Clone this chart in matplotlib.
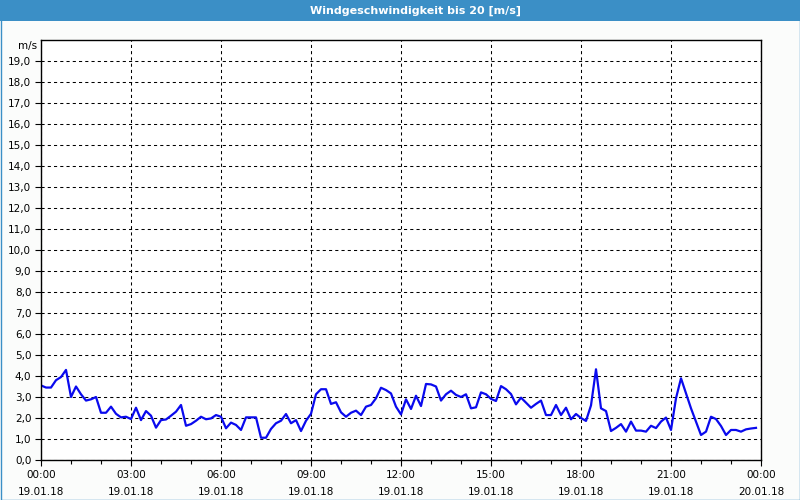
import numpy as np
import matplotlib
matplotlib.use("Agg")
import matplotlib.pyplot as plt
from matplotlib.patches import Rectangle
from matplotlib.ticker import MultipleLocator

# wind speed every 10 minutes, 00:00 .. 23:50 (m/s)
speed = [
    3.55, 3.45, 3.45, 3.80, 3.95, 4.29, 3.00, 3.50, 3.13, 2.83, 2.89, 3.00,
    2.25, 2.25, 2.54, 2.20, 2.03, 2.06,
    1.95, 2.49, 1.90, 2.33, 2.11, 1.54,
    1.90, 1.93, 2.11, 2.30, 2.62, 1.63,
    1.71, 1.87, 2.06, 1.94, 1.98, 2.14,
    2.06, 1.51, 1.78, 1.67, 1.43, 2.03,
    2.03, 2.03, 1.06, 1.06, 1.48, 1.75,
    1.87, 2.19, 1.75, 1.90, 1.38, 1.87,
    2.20, 3.13, 3.37, 3.37, 2.67, 2.75,
    2.27, 2.06, 2.25, 2.35, 2.14, 2.54,
    2.62, 2.94, 3.44, 3.33, 3.17, 2.54,
    2.17, 2.89, 2.43, 3.06, 2.57, 3.62,
    3.60, 3.50, 2.83, 3.13, 3.30, 3.10,
    3.00, 3.13, 2.46, 2.51, 3.22, 3.13,
    2.91, 2.81, 3.52, 3.37, 3.14, 2.65,
    2.97, 2.73, 2.49, 2.67, 2.83, 2.14,
    2.14, 2.62, 2.14, 2.49, 1.94, 2.19,
    2.00, 1.86, 2.60, 4.32, 2.46, 2.33,
    1.38, 1.53, 1.71, 1.35, 1.83, 1.40,
    1.40, 1.35, 1.63, 1.52, 1.83, 2.02,
    1.43, 2.94, 3.89, 3.17, 2.46, 1.83,
    1.19, 1.35, 2.06, 1.95, 1.62, 1.19,
    1.43, 1.43, 1.35, 1.46, 1.50, 1.53,
]
hours = np.arange(len(speed)) / 6.0

tick_hours = [0, 3, 6, 9, 12, 15, 18, 21, 24]
tick_labels = ["00:00\n19.01.18", "03:00\n19.01.18", "06:00\n19.01.18",
               "09:00\n19.01.18", "12:00\n19.01.18", "15:00\n19.01.18",
               "18:00\n19.01.18", "21:00\n19.01.18", "00:00\n20.01.18"]
y_ticks = list(range(0, 20))

blue = "#3b8fc6"
plt.rcParams["font.family"] = ["DejaVu Sans"]

fig = plt.figure(figsize=(8, 5), dpi=100, facecolor="#fbfcfb")
ax = fig.add_axes([41 / 800, 40 / 500, 720 / 800, 420 / 500])

# title bar + frame
fig.patches.append(Rectangle((0, 1 - 21 / 500), 1, 21 / 500, transform=fig.transFigure,
                             facecolor=blue, edgecolor="none"))
fig.patches.append(Rectangle((0.5 / 800, 0.5 / 500), 799 / 800, 499 / 500, transform=fig.transFigure,
                             facecolor="none", edgecolor=blue, lw=1))
fig.text(415 / 800, 1 - 10.5 / 500, "Windgeschwindigkeit bis 20 [m/s]", color="white",
         fontsize=8, fontweight="bold", ha="center", va="center")

ax.plot(hours, speed, color="#0a0aee", lw=1.6)

ax.set_xlim(0, 24)
ax.set_ylim(0, 20)
ax.set_xticks(tick_hours)
ax.set_xticklabels(tick_labels, fontsize=7.5, linespacing=1.9)
ax.xaxis.set_minor_locator(MultipleLocator(1))
ax.set_yticks(y_ticks)
ax.set_yticklabels([f"{v},0" for v in y_ticks], fontsize=7.5)
ax.tick_params(axis="both", which="major", length=4, width=0.8, direction="out", pad=3)
ax.tick_params(axis="x", which="minor", length=3, width=0.8, direction="out")

ax.grid(True, which="major", color="black", lw=0.75, linestyle=(0, (3, 3)))
for s in ax.spines.values():
    s.set_linewidth(1.0)
ax.set_facecolor("white")

fig.text(37 / 800, 1 - 46 / 500, "m/s", fontsize=7.5, ha="right", va="center")

fig.savefig("out.png", dpi=100, facecolor=fig.get_facecolor())
